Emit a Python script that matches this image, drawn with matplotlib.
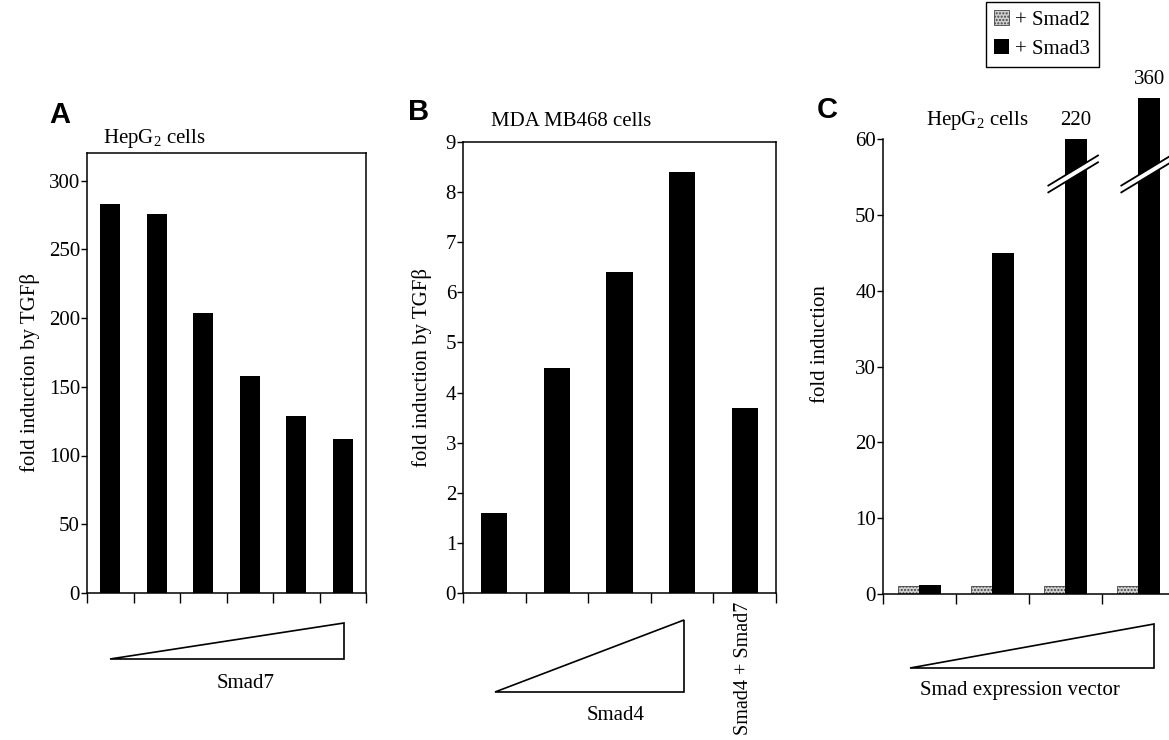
import matplotlib
matplotlib.use('Agg')
from matplotlib import pyplot as plt
from matplotlib.patches import Polygon

plt.rcParams['font.family'] = ['Liberation Serif', 'DejaVu Serif']
plt.rcParams['font.size'] = 15
plt.rcParams['mathtext.fontset'] = 'custom'
plt.rcParams['mathtext.rm'] = 'Liberation Serif'
plt.rcParams['mathtext.default'] = 'rm'

# panel A: HepG2, increasing Smad7
a_values = [283, 276, 204, 158, 129, 112]
a_yticks = [0, 50, 100, 150, 200, 250, 300]

# panel B: MDA MB468, increasing Smad4, last = Smad4 + Smad7
b_values = [1.6, 4.5, 6.4, 8.4, 3.7]
b_yticks = list(range(10))

# panel C: HepG2, increasing Smad expression vector
c_smad2 = [1.1, 1.1, 1.1, 1.1]
c_smad3 = [1.2, 45, 60, 65.5]
c_labels = [None, None, '220', '360']   # real values of the broken bars
c_break = [None, None, 55, 55]
c_yticks = [0, 10, 20, 30, 40, 50, 60]

W, H = 1169, 740
fig = plt.figure(figsize=(W / 100, H / 100), dpi=100)


def box(l, t, r, b):
    return [l / W, 1 - b / H, (r - l) / W, (b - t) / H]


def fx(x):
    return x / W


def fy(y):
    return 1 - y / H


def style(ax, yticks):
    ax.set_yticks(yticks)
    ax.tick_params(axis='y', direction='out', length=4, width=1, pad=1, labelsize=15)
    ax.tick_params(axis='x', direction='out', length=7, width=1, labelbottom=False)
    for s in ax.spines.values():
        s.set_linewidth(1.1)


# ---- A ----
axA = fig.add_axes(box(87, 153, 366, 593))
axA.bar([i + 0.5 for i in range(len(a_values))], a_values, width=0.42, color='black')
axA.set_xlim(0, len(a_values))
axA.set_ylim(0, 320)
axA.set_xticks(range(len(a_values) + 1))
style(axA, a_yticks)
axA.set_ylabel('fold induction by TGFβ', fontsize=15, labelpad=6)

# ---- B ----
axB = fig.add_axes(box(463, 142, 776, 593))
axB.bar([i + 0.5 for i in range(len(b_values))], b_values, width=0.42, color='black')
axB.set_xlim(0, len(b_values))
axB.set_ylim(0, 9)
axB.set_xticks(range(len(b_values) + 1))
style(axB, b_yticks)
axB.set_ylabel('fold induction by TGFβ', fontsize=15, labelpad=10)

# ---- C ----
axC = fig.add_axes(box(883, 94, 1169, 594))
n = len(c_smad3)
pos = list(range(n))
w = 0.295
b2 = axC.bar([p + 0.35 for p in pos], c_smad2, width=w, facecolor='#cfcfcf',
             edgecolor='#444444', hatch='.....', linewidth=0.6, label='+ Smad2')
b3 = axC.bar([p + 0.645 for p in pos], c_smad3, width=w, color='black', label='+ Smad3')
axC.set_xlim(0, 286 / 73)
axC.set_ylim(0, 66)
axC.set_xticks(range(n))
style(axC, c_yticks)
axC.spines['top'].set_visible(False)
axC.spines['right'].set_visible(False)
axC.spines['left'].set_bounds(0, 60)
axC.set_ylabel('fold induction', fontsize=15, labelpad=18)

for p, v, lab, brk in zip(pos, c_smad3, c_labels, c_break):
    xc = p + 0.645
    if lab:
        axC.text(xc, v + 1.2, lab, ha='center', va='bottom', fontsize=15)
    if brk:
        x0, x1 = xc - 0.38, xc + 0.3
        dy = 2.8 * (x1 - x0) / 0.48 / 2
        gap = 0.9
        poly = Polygon([(x0, brk - dy), (x1, brk + dy), (x1, brk + dy + gap), (x0, brk - dy + gap)],
                       closed=True, facecolor='white', edgecolor='none', zorder=3, clip_on=False)
        axC.add_patch(poly)
        axC.plot([x0, x1], [brk - dy, brk + dy], color='black', lw=1.3, zorder=4, clip_on=False)
        axC.plot([x0, x1], [brk - dy + gap, brk + dy + gap], color='black', lw=1.3, zorder=4, clip_on=False)

fig.legend(handles=[b2, b3], loc='upper left', bbox_to_anchor=(fx(986), fy(2)),
           frameon=True, fancybox=False, edgecolor='black', framealpha=1,
           fontsize=15, handlelength=0.7, handleheight=0.7, handletextpad=0.3,
           borderpad=0.4, labelspacing=0.45, borderaxespad=0)

# panel letters and cell line titles
for x, y, s in [(60, 115, 'A'), (419, 112, 'B'), (827, 110, 'C')]:
    fig.text(fx(x), fy(y), s, family='Liberation Sans', fontweight='bold', fontsize=21,
             ha='center', va='center')
fig.text(fx(154), fy(138), 'HepG$_2$ cells', fontsize=15, ha='center', va='center')
fig.text(fx(571), fy(122), 'MDA MB468 cells', fontsize=15, ha='center', va='center')
fig.text(fx(977), fy(120), 'HepG$_2$ cells', fontsize=15, ha='center', va='center')

# dose triangles under the panels
for (xl, xr, yt, yb) in [(110, 344, 623, 659), (495, 684, 620, 692), (910, 1154, 624, 668)]:
    tri = Polygon([(fx(xl), fy(yb)), (fx(xr), fy(yt)), (fx(xr), fy(yb))], closed=True,
                  facecolor='white', edgecolor='black', lw=1.2, transform=fig.transFigure)
    fig.add_artist(tri)

fig.text(fx(246), fy(683), 'Smad7', fontsize=15, ha='center', va='center')
fig.text(fx(616), fy(716), 'Smad4', fontsize=15, ha='center', va='center')
fig.text(fx(1020), fy(690), 'Smad expression vector', fontsize=15, ha='center', va='center')
fig.text(fx(743), fy(602), 'Smad4 + Smad7', fontsize=14.5, rotation=90, ha='center', va='top')

fig.savefig('out.png', dpi=100)
